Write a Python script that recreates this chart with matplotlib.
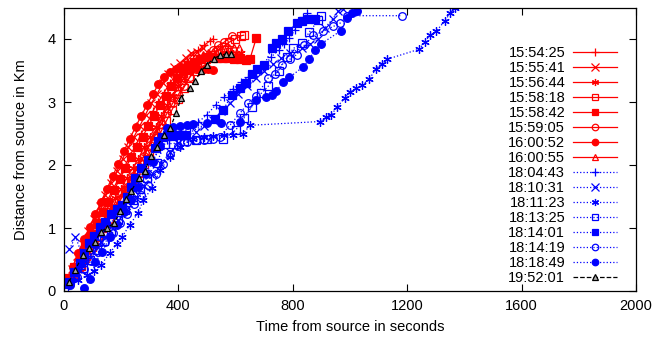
import matplotlib
matplotlib.use("Agg")
import matplotlib.pyplot as plt
from matplotlib.lines import Line2D

plt.rcParams['font.family'] = ['Liberation Sans', 'DejaVu Sans']

# ---------------- data ----------------
labels = ["15:54:25", "15:55:41", "15:56:44", "15:58:18", "15:58:42", "15:59:05",
          "16:00:52", "16:00:55", "18:04:43", "18:10:31", "18:11:23", "18:13:25",
          "18:14:01", "18:14:19", "18:18:49", "19:52:01"]

t_155425 = [15, 30, 50, 70, 90, 110, 130, 150, 170, 190, 210, 230, 250, 270, 290, 310, 330, 350, 370, 390, 410, 430, 450, 470, 490, 510, 520]
d_155425 = [0.15, 0.30, 0.50, 0.70, 0.88, 1.05, 1.25, 1.42, 1.60, 1.78, 1.95, 2.15, 2.30, 2.50, 2.65, 2.85, 3.00, 3.15, 3.30, 3.42, 3.55, 3.65, 3.75, 3.82, 3.90, 3.97, 4.00]

t_155541 = [12, 28, 45, 65, 85, 105, 125, 145, 165, 185, 205, 225, 245, 265, 285, 305, 325, 345, 365, 385, 405, 425, 445, 465, 485]
d_155541 = [0.18, 0.35, 0.55, 0.75, 0.95, 1.15, 1.35, 1.52, 1.72, 1.90, 2.10, 2.28, 2.45, 2.62, 2.80, 2.98, 3.12, 3.30, 3.45, 3.55, 3.62, 3.70, 3.78, 3.80, 3.85]

t_155644 = [20, 40, 60, 80, 100, 120, 140, 160, 180, 200, 220, 240, 260, 280, 300, 320, 340, 360, 380, 400, 420, 440, 460, 480, 500, 520, 540, 560, 580, 600, 620]
d_155644 = [0.12, 0.28, 0.45, 0.62, 0.80, 0.98, 1.12, 1.30, 1.48, 1.62, 1.80, 1.95, 2.10, 2.28, 2.45, 2.60, 2.78, 2.95, 3.10, 3.25, 3.38, 3.50, 3.58, 3.65, 3.70, 3.72, 3.75, 3.78, 3.80, 3.78, 3.77]

t_155818 = [18, 38, 58, 78, 98, 118, 138, 158, 178, 198, 218, 238, 258, 278, 298, 318, 338, 358, 378, 398, 418, 438, 458, 478, 498, 518, 538, 558, 578, 598, 618, 628]
d_155818 = [0.12, 0.25, 0.40, 0.55, 0.70, 0.85, 1.00, 1.15, 1.30, 1.45, 1.60, 1.75, 1.88, 2.02, 2.18, 2.35, 2.52, 2.70, 2.88, 3.05, 3.22, 3.38, 3.50, 3.60, 3.68, 3.75, 3.82, 3.88, 3.95, 4.00, 4.05, 4.06]

t_155842 = [15, 35, 55, 75, 95, 115, 135, 155, 175, 195, 215, 235, 255, 275, 295, 315, 335, 355, 375, 395, 415, 435, 455, 475, 495, 515, 535, 555, 575, 595, 615, 635, 650, 672]
d_155842 = [0.20, 0.38, 0.55, 0.72, 0.90, 1.08, 1.25, 1.42, 1.60, 1.78, 1.95, 2.12, 2.28, 2.45, 2.62, 2.78, 2.95, 3.10, 3.25, 3.38, 3.50, 3.58, 3.63, 3.68, 3.72, 3.72, 3.70, 3.70, 3.70, 3.69, 3.68, 3.67, 3.68, 4.01]

t_155905 = [20, 40, 60, 80, 100, 120, 140, 160, 180, 200, 220, 240, 260, 280, 300, 320, 340, 360, 380, 400, 420, 440, 460, 480, 500, 520, 540, 560, 586]
d_155905 = [0.12, 0.25, 0.40, 0.55, 0.70, 0.85, 1.00, 1.15, 1.32, 1.48, 1.65, 1.82, 1.98, 2.15, 2.32, 2.48, 2.65, 2.82, 2.98, 3.12, 3.26, 3.40, 3.52, 3.62, 3.72, 3.82, 3.90, 3.95, 4.04]

t_160052 = [15, 30, 50, 70, 90, 110, 130, 150, 170, 190, 210, 230, 250, 270, 290, 310, 330, 350, 370, 390, 410, 430, 450, 470, 490, 505, 520]
d_160052 = [0.20, 0.38, 0.60, 0.82, 1.02, 1.22, 1.42, 1.62, 1.82, 2.02, 2.22, 2.42, 2.60, 2.78, 2.95, 3.12, 3.28, 3.40, 3.48, 3.53, 3.55, 3.55, 3.54, 3.53, 3.53, 3.52, 3.51]

t_160055 = [18, 36, 54, 72, 90, 108, 126, 144, 162, 180, 198, 216, 234, 252, 270, 288, 306, 324, 342, 360, 378, 396, 414, 432, 450, 468, 486, 504, 522, 540, 558, 576, 594, 612]
d_160055 = [0.12, 0.24, 0.38, 0.52, 0.66, 0.80, 0.95, 1.08, 1.22, 1.36, 1.50, 1.64, 1.78, 1.92, 2.06, 2.22, 2.38, 2.55, 2.72, 2.90, 3.08, 3.25, 3.40, 3.52, 3.62, 3.70, 3.75, 3.78, 3.80, 3.82, 3.84, 3.85, 3.86, 3.86]

t_180443 = [15, 35, 60, 85, 110, 135, 160, 185, 210, 235, 260, 285, 310, 335, 360, 385, 410, 440, 470, 500, 530, 560, 590, 620, 645, 671, 703, 723, 750, 770, 788, 808, 825, 837, 848]
d_180443 = [0.05, 0.18, 0.35, 0.52, 0.70, 0.88, 1.05, 1.22, 1.40, 1.58, 1.75, 1.92, 2.08, 2.25, 2.40, 2.48, 2.52, 2.58, 2.68, 2.80, 2.95, 3.08, 3.20, 3.32, 3.40, 3.47, 3.59, 3.71, 3.82, 3.92, 4.01, 4.15, 4.28, 4.35, 4.41]

t_181031 = [19, 40, 70, 100, 130, 160, 190, 220, 250, 280, 310, 340, 370, 400, 430, 460, 490, 520, 550, 580, 610, 640, 670, 700, 730, 760, 790, 831, 860, 889, 913, 940, 959, 975]
d_181031 = [0.66, 0.86, 0.50, 0.62, 0.78, 0.95, 1.12, 1.30, 1.48, 1.66, 1.85, 2.02, 2.20, 2.35, 2.45, 2.52, 2.62, 2.72, 2.85, 2.98, 3.12, 3.25, 3.38, 3.50, 3.60, 3.70, 3.78, 3.85, 3.92, 4.00, 4.18, 4.32, 4.44, 4.48]

t_181123 = [18, 50, 80, 105, 130, 160, 185, 203, 230, 259, 277, 307, 336, 371, 406, 452, 490, 522, 560, 592, 627, 650, 895, 916, 933, 955, 983, 1000, 1021, 1043, 1067, 1091, 1111, 1131, 1243, 1262, 1280, 1301, 1332, 1350, 1367]
d_181123 = [0.10, 0.18, 0.25, 0.32, 0.42, 0.60, 0.75, 0.86, 1.05, 1.24, 1.44, 1.63, 1.92, 2.13, 2.29, 2.42, 2.45, 2.46, 2.47, 2.48, 2.50, 2.63, 2.69, 2.76, 2.79, 2.92, 3.07, 3.16, 3.22, 3.27, 3.36, 3.53, 3.61, 3.68, 3.84, 3.96, 4.06, 4.12, 4.29, 4.41, 4.49]

t_181325 = [18, 40, 65, 90, 115, 140, 165, 190, 215, 240, 265, 290, 324, 353, 382, 420, 460, 500, 557, 600, 630, 656, 690, 714, 750, 781, 802, 831, 858, 889, 900]
d_181325 = [0.12, 0.22, 0.36, 0.50, 0.65, 0.80, 0.96, 1.12, 1.28, 1.45, 1.62, 1.80, 2.03, 2.34, 2.34, 2.38, 2.40, 2.41, 2.42, 2.55, 2.75, 2.92, 3.14, 3.25, 3.50, 3.72, 3.85, 3.93, 4.11, 4.30, 4.37]

t_181401 = [16, 35, 55, 70, 86, 105, 125, 143, 165, 185, 202, 220, 235, 248, 270, 295, 318, 330, 341, 360, 376, 390, 406, 425, 528, 556, 586, 615, 638, 656, 676, 700, 726, 743, 763, 784, 813, 831, 854, 877]
d_181401 = [0.15, 0.30, 0.45, 0.60, 0.76, 0.88, 1.02, 1.10, 1.22, 1.30, 1.37, 1.50, 1.65, 1.80, 1.95, 2.08, 2.27, 2.38, 2.45, 2.48, 2.48, 2.48, 2.48, 2.48, 2.73, 2.87, 3.11, 3.23, 3.30, 3.44, 3.53, 3.58, 3.85, 3.93, 4.00, 4.12, 4.25, 4.29, 4.32, 4.32]

t_181419 = [20, 45, 70, 95, 120, 145, 170, 195, 220, 245, 270, 295, 320, 345, 370, 400, 430, 460, 490, 520, 545, 580, 615, 644, 673, 714, 738, 761, 790, 813, 840, 872, 905, 942, 965, 988, 1181]
d_181419 = [0.10, 0.22, 0.35, 0.48, 0.62, 0.78, 0.92, 1.08, 1.22, 1.38, 1.52, 1.68, 1.85, 2.02, 2.18, 2.30, 2.36, 2.40, 2.40, 2.42, 2.45, 2.63, 2.82, 2.98, 3.10, 3.38, 3.44, 3.59, 3.68, 3.75, 3.90, 4.06, 4.12, 4.20, 4.25, 4.37, 4.37]

t_181849 = [69, 92, 110, 133, 160, 185, 210, 235, 260, 285, 310, 335, 359, 380, 406, 430, 452, 500, 550, 615, 673, 705, 726, 743, 767, 788, 837, 858, 878, 898, 968, 989, 1006, 1026]
d_181849 = [0.04, 0.19, 0.46, 0.62, 0.85, 1.05, 1.25, 1.45, 1.65, 1.85, 2.05, 2.30, 2.58, 2.60, 2.62, 2.63, 2.65, 2.66, 2.67, 2.68, 3.03, 3.08, 3.11, 3.18, 3.32, 3.39, 3.56, 3.68, 3.83, 3.92, 4.13, 4.33, 4.41, 4.45]

t_195201 = [18, 38, 67, 88, 107, 128, 150, 176, 196, 217, 234, 263, 283, 303, 324, 351, 371, 392, 410, 439, 459, 479, 499, 524, 545, 565, 585]
d_195201 = [0.15, 0.33, 0.57, 0.68, 0.77, 0.94, 1.00, 1.08, 1.27, 1.46, 1.58, 1.80, 1.91, 2.14, 2.29, 2.48, 2.58, 2.83, 3.07, 3.22, 3.34, 3.49, 3.59, 3.69, 3.74, 3.76, 3.76]

x_ticks = [0, 400, 800, 1200, 1600, 2000]
y_ticks = [0, 1, 2, 3, 4]

series_t = [t_155425, t_155541, t_155644, t_155818, t_155842, t_155905, t_160052, t_160055,
            t_180443, t_181031, t_181123, t_181325, t_181401, t_181419, t_181849, t_195201]
series_d = [d_155425, d_155541, d_155644, d_155818, d_155842, d_155905, d_160052, d_160055,
            d_180443, d_181031, d_181123, d_181325, d_181401, d_181419, d_181849, d_195201]

markers = ['+', 'x', (6, 2, 0), 's', 's', 'o', 'o', '^'] * 2
fills = [True, True, True, False, True, False, True, False] * 2

# ---------------- figure ----------------
fig = plt.figure(figsize=(6.62, 3.41), dpi=100)
ax = fig.add_axes([64/662, 50/341, 572/662, 283.5/341])

handles = []
for i, (t, d, lab) in enumerate(zip(series_t, series_d, labels)):
    if i < 8:
        color, ls = '#ff0000', '-'
    elif i < 15:
        color, ls = '#0000ff', ':'
    else:
        color, ls = '#000000', (0, (3, 4))
    mk = markers[i]
    fill = fills[i]
    mfc = color if fill else 'none'
    ms = 5.5 if mk in ('s', 'o', '^') else 6
    if i == 15:
        ms = 5
        mfc = '#aaaaaa'
    ln, = ax.plot(t, d, linestyle=ls, color=color, lw=0.9, marker=mk,
                  markersize=ms, markerfacecolor=mfc, markeredgecolor=color,
                  markeredgewidth=0.9, label=lab)
    handles.append(ln)

ax.set_xlim(0, 2000)
ax.set_ylim(0, 4.5)
ax.set_xticks(x_ticks)
ax.set_yticks(y_ticks)
ax.tick_params(direction='in', length=5, width=0.8, top=True, right=True,
               labelsize=10.5, pad=6)
for s in ax.spines.values():
    s.set_linewidth(0.9)

ax.set_xlabel("Time from source in seconds", fontsize=10.5, labelpad=5)
ax.set_ylabel("Distance from source in Km", fontsize=10.5, labelpad=14)

# legend
leg_handles = []
for h in handles:
    leg_handles.append(Line2D([], [], linestyle=h.get_linestyle(), color=h.get_color(),
                              lw=h.get_linewidth(), marker=h.get_marker(),
                              markersize=h.get_markersize() * 0.85,
                              markerfacecolor=h.get_markerfacecolor(),
                              markeredgecolor=h.get_markeredgecolor(),
                              markeredgewidth=0.9))
leg = ax.legend(leg_handles, labels, loc='upper right', bbox_to_anchor=(617/662, (341-46)/341),
                bbox_transform=fig.transFigure, markerfirst=False, frameon=False,
                fontsize=10.5, labelspacing=0.07, handlelength=3.0, handletextpad=0.55,
                borderpad=0, borderaxespad=0, handleheight=0.6, numpoints=1)

fig.savefig("out.png", dpi=100)
